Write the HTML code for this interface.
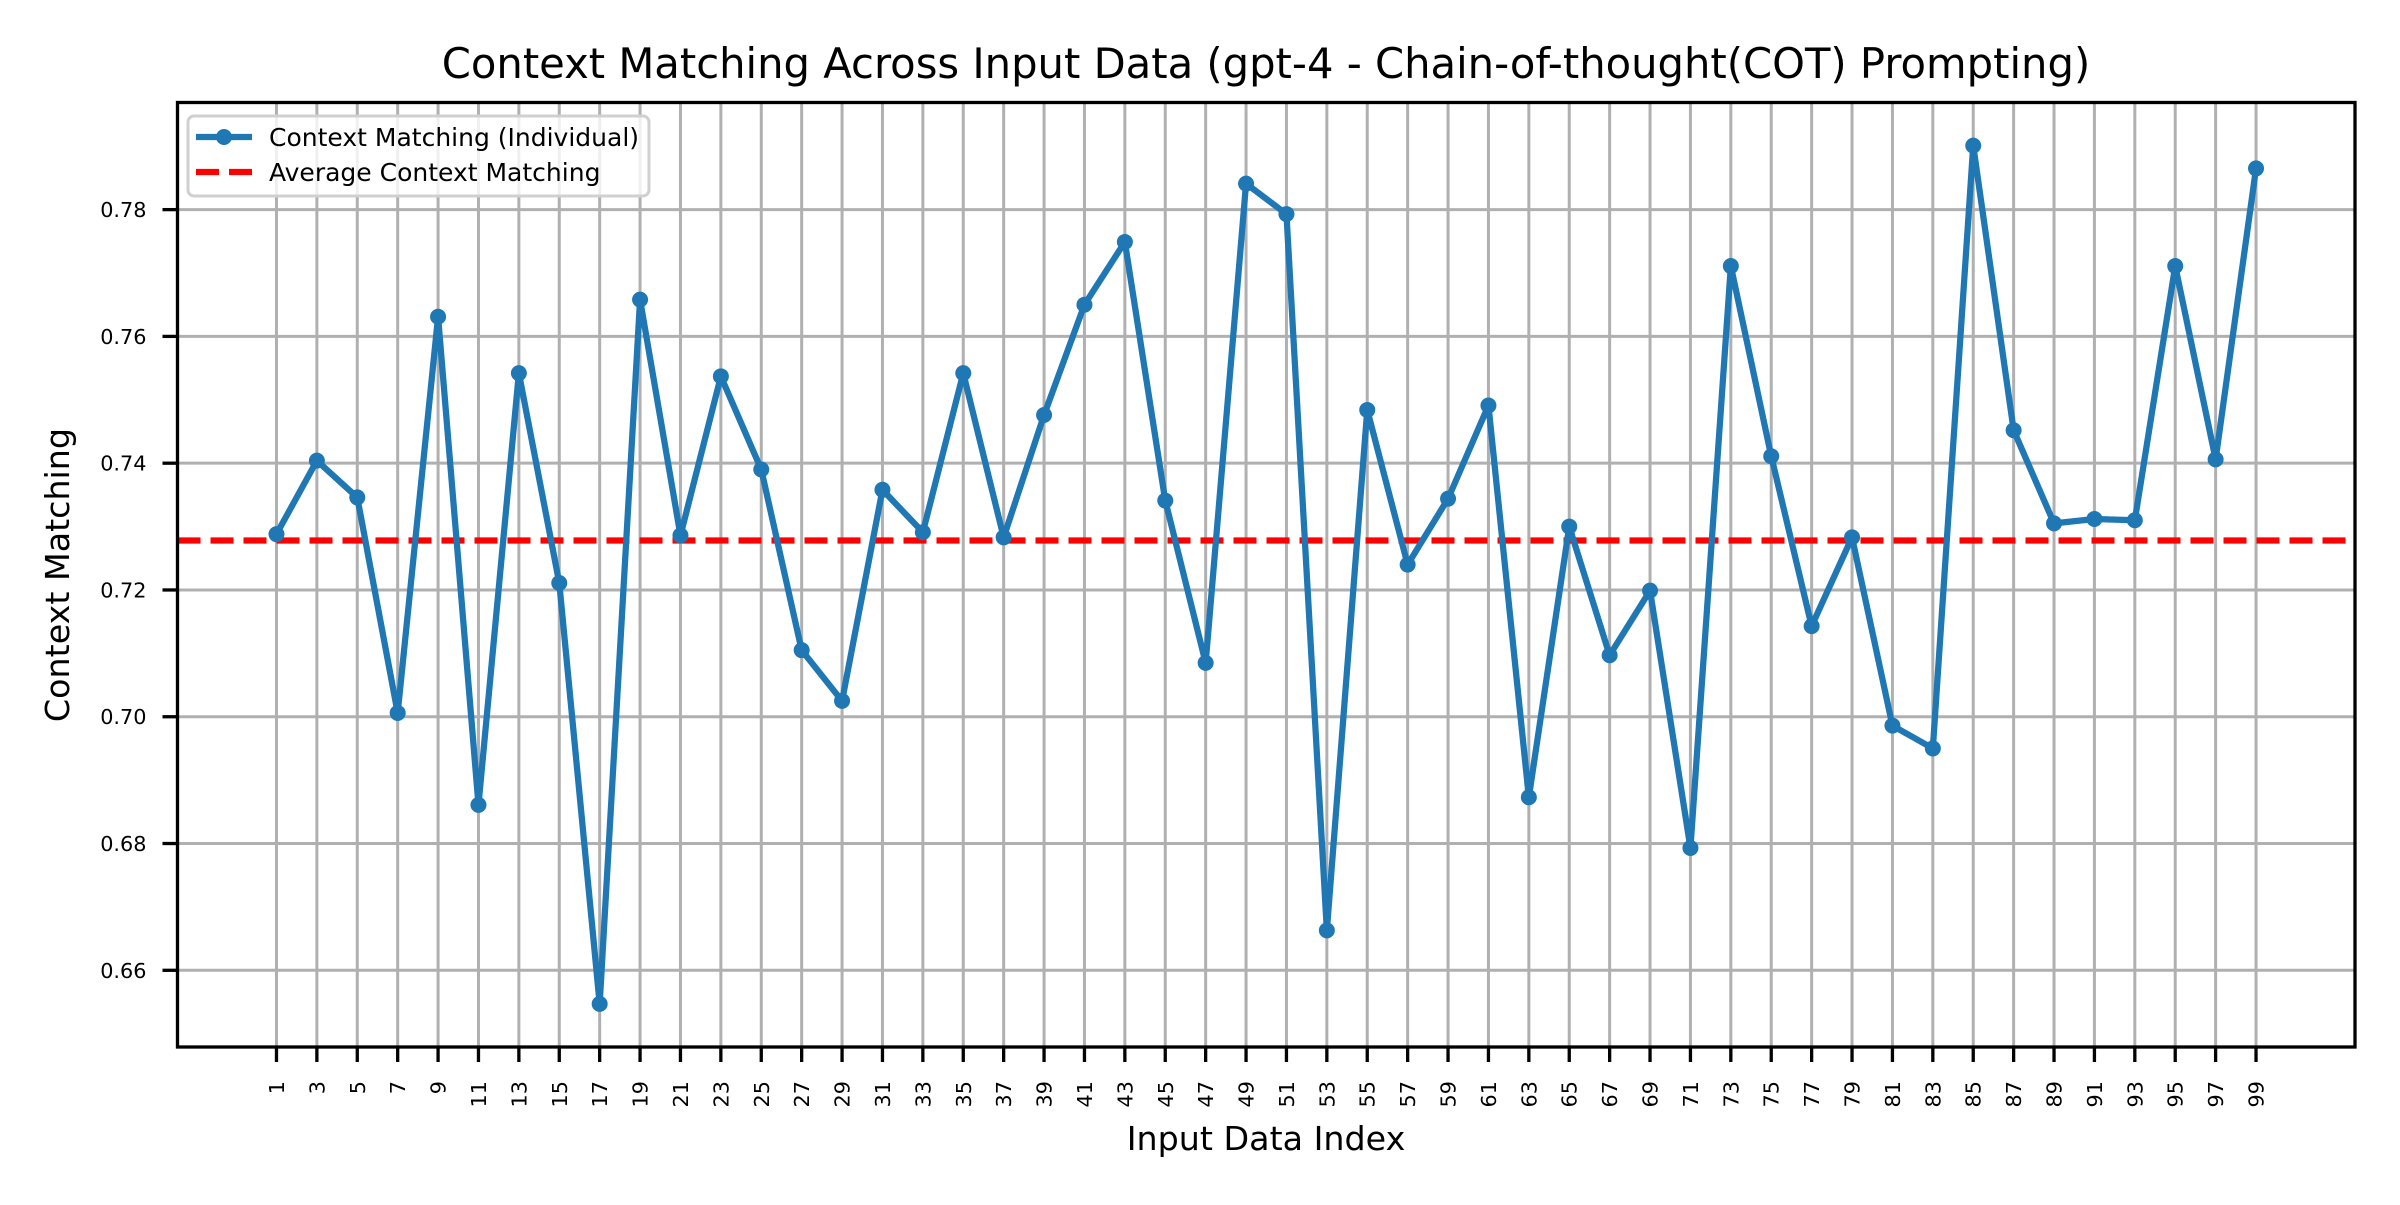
<!DOCTYPE html>
<html><head><meta charset="utf-8"><style>
html,body{margin:0;padding:0;background:#fff}
svg text{font-family:"DejaVu Sans","Liberation Sans",sans-serif}
</style></head><body>
<svg id="chart" width="2400" height="1200" xmlns="http://www.w3.org/2000/svg">
<rect width="2400" height="1200" fill="#fff"/>
<text x="1266" y="78" font-size="41.7" text-anchor="middle">Context Matching Across Input Data (gpt-4 - Chain-of-thought(COT) Prompting)</text>
<g id="grid"></g>
<g id="avg"></g>
<g id="series"></g>
<g id="axes"></g>
<text x="1266" y="1150" font-size="33.3" text-anchor="middle">Input Data Index</text>
<text transform="translate(69,575) rotate(-90)" font-size="33.3" text-anchor="middle">Context Matching</text>
<g>
<rect x="188" y="116" width="461" height="80" rx="6" fill="#fff" fill-opacity="0.8" stroke="#d0d0d0" stroke-width="3"/>
<line x1="196" y1="137" x2="252" y2="137" stroke="#1f77b4" stroke-width="6.25"/>
<circle cx="224" cy="137" r="8" fill="#1f77b4"/>
<text x="269" y="146" font-size="25">Context Matching (Individual)</text>
<line x1="196" y1="172" x2="252" y2="172" stroke="#ff0000" stroke-width="6.25" stroke-dasharray="23,10"/>
<text x="269" y="181" font-size="25">Average Context Matching</text>
</g>
</svg>
<script>
const xCategories=[1,3,5,7,9,11,13,15,17,19,21,23,25,27,29,31,33,35,37,39,41,43,45,47,49,51,53,55,57,59,61,63,65,67,69,71,73,75,77,79,81,83,85,87,89,91,93,95,97,99];
const matchValues=[0.7288,0.7404,0.7346,0.7006,0.7631,0.6861,0.7542,0.7211,0.6547,0.7658,0.7286,0.7537,0.7390,0.7105,0.7025,0.7358,0.7291,0.7542,0.7283,0.7476,0.7650,0.7749,0.7341,0.7085,0.7841,0.7793,0.6663,0.7484,0.7240,0.7344,0.7491,0.6873,0.7300,0.7097,0.7199,0.6793,0.7711,0.7411,0.7143,0.7283,0.6986,0.6950,0.7901,0.7452,0.7305,0.7312,0.7310,0.7711,0.7406,0.7865];
const averageValue=[0.7278];
const yTicks=[0.66,0.68,0.70,0.72,0.74,0.76,0.78];
const yTickLabels=["0.66","0.68","0.70","0.72","0.74","0.76","0.78"];
const L=177.5,R=2355,T=102.5,B=1047;
const xMin=-3.9,xMax=103.9,yMin=0.6479,yMax=0.7969;
const X=v=>L+(v-xMin)/(xMax-xMin)*(R-L);
const Y=v=>B-(v-yMin)/(yMax-yMin)*(B-T);
const NS="http://www.w3.org/2000/svg";
function mk(tag,attrs,parent){const e=document.createElementNS(NS,tag);for(const k in attrs)e.setAttribute(k,attrs[k]);parent.appendChild(e);return e;}
const grid=document.getElementById('grid'),axes=document.getElementById('axes'),series=document.getElementById('series'),avg=document.getElementById('avg');
xCategories.forEach(c=>{
  const g=mk('line',{x1:X(c),x2:X(c),y1:T,y2:B,stroke:'#b0b0b0','stroke-width':3},grid);
  
  
  const t=mk('line',{x1:X(c),x2:X(c),y1:B,y2:B+15,stroke:'#000','stroke-width':3.3},axes);
  
  
  const tx=mk('text',{transform:`translate(${X(c)+7.5},1081) rotate(-90)`,'font-size':20.8,'text-anchor':'end'},axes);
  tx.textContent=c;
  
  
});
yTicks.forEach((v,i)=>{
  const g=mk('line',{x1:L,x2:R,y1:Y(v),y2:Y(v),stroke:'#b0b0b0','stroke-width':3},grid);
  
  
  const t=mk('line',{x1:L-15,x2:L,y1:Y(v),y2:Y(v),stroke:'#000','stroke-width':3.3},axes);
  
  
  const tx=mk('text',{x:L-31,y:Y(v)+7.5,'font-size':20.8,'text-anchor':'end'},axes);
  tx.textContent=yTickLabels[i];
  
  
});
const fr=mk('rect',{x:L,y:T,width:R-L,height:B-T,fill:'none',stroke:'#000','stroke-width':3.3},axes);


const al=mk('line',{x1:L,x2:R,y1:Y(averageValue[0]),y2:Y(averageValue[0]),stroke:'#ff0000','stroke-width':6.25,'stroke-dasharray':'23,10'},avg);


const pts=xCategories.map((c,i)=>X(c)+','+Y(matchValues[i])).join(' ');
const pl=mk('polyline',{points:pts,fill:'none',stroke:'#1f77b4','stroke-width':6.25,'stroke-linejoin':'round'},series);


xCategories.forEach((c,i)=>{
  const p=mk('circle',{cx:X(c),cy:Y(matchValues[i]),r:8,fill:'#1f77b4'},series);
  
  
});
</script>
</body></html>
